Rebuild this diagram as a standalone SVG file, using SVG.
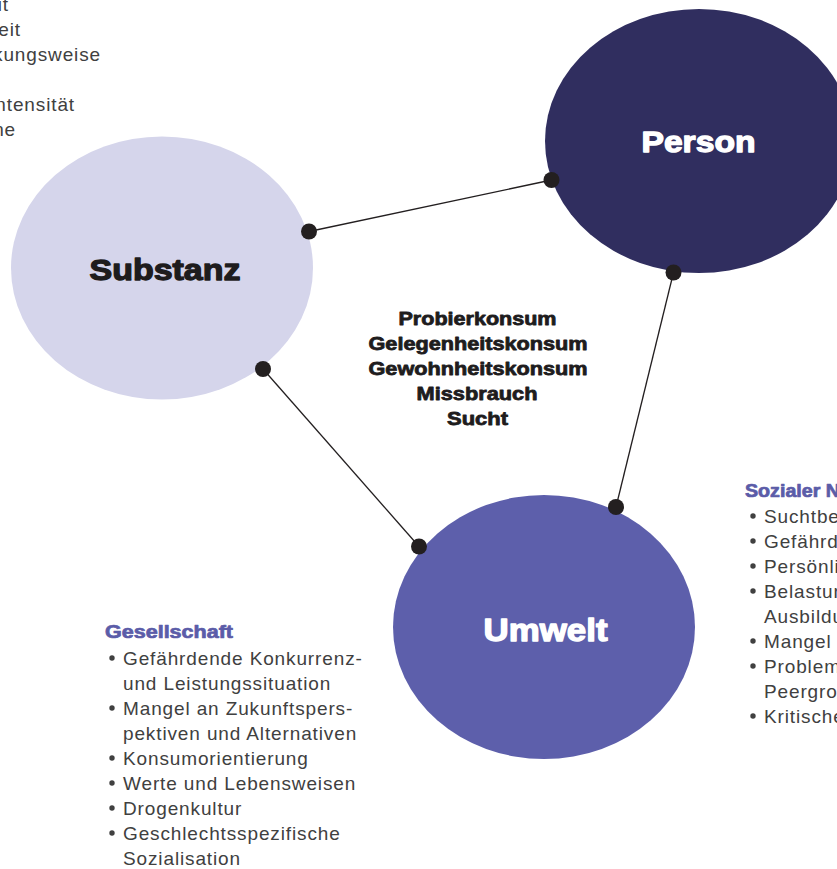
<svg xmlns="http://www.w3.org/2000/svg" width="837" height="869" viewBox="0 0 837 869">
<style>
.lbl{font-family:"Liberation Sans",Arial,sans-serif;font-weight:bold;text-anchor:middle;stroke-width:1.3;stroke-linejoin:round}
.mid{font-family:"Liberation Sans",Arial,sans-serif;font-weight:bold;font-size:18.5px;fill:#1e1c1d;stroke:#1e1c1d;stroke-width:0.8;stroke-linejoin:round;text-anchor:middle}
.head{font-family:"Liberation Sans",Arial,sans-serif;font-weight:bold;font-size:17.5px;fill:#5b5ca8;stroke:#5b5ca8;stroke-width:0.7;stroke-linejoin:round}
.body{font-family:"Liberation Sans",Arial,sans-serif;font-size:19px;fill:#404040;letter-spacing:0.87px}
.dot{fill:#231f20}
.bul{fill:#404040}
.conn{stroke:#231f20;stroke-width:1.3;fill:none}
</style>
<rect width="837" height="869" fill="#ffffff"/>

<g id="substanz-factors">
<text class="body" text-anchor="end" x="9" y="11">it</text>
<text class="body" text-anchor="end" x="21" y="36">eit</text>
<text class="body" text-anchor="end" x="101" y="61">kungsweise</text>
<text class="body" text-anchor="end" x="75" y="111">ntensität</text>
<text class="body" text-anchor="end" x="16" y="136">ne</text>
</g>

<g id="substanz">
<ellipse cx="162" cy="268" rx="151" ry="131.5" fill="#d5d5eb"/>
<text class="lbl" x="165" y="280" font-size="30" fill="#1e1c1d" stroke="#1e1c1d" textLength="151" lengthAdjust="spacingAndGlyphs">Substanz</text>
</g>

<g id="person">
<ellipse cx="699" cy="141" rx="154" ry="132" fill="#302e5f"/>
<text class="lbl" x="698.5" y="152" font-size="30" fill="#ffffff" stroke="#ffffff" textLength="114" lengthAdjust="spacingAndGlyphs">Person</text>
</g>

<g id="umwelt">
<ellipse cx="544" cy="627" rx="151" ry="132" fill="#5d5fab"/>
<text class="lbl" x="545.5" y="641" font-size="31" fill="#ffffff" stroke="#ffffff" textLength="124" lengthAdjust="spacingAndGlyphs">Umwelt</text>
</g>

<g id="konsum-stufen">
<text class="mid" x="477.5" y="325" textLength="158" lengthAdjust="spacingAndGlyphs">Probierkonsum</text>
<text class="mid" x="478" y="350" textLength="219" lengthAdjust="spacingAndGlyphs">Gelegenheitskonsum</text>
<text class="mid" x="478" y="375" textLength="219" lengthAdjust="spacingAndGlyphs">Gewohnheitskonsum</text>
<text class="mid" x="477" y="400" textLength="121" lengthAdjust="spacingAndGlyphs">Missbrauch</text>
<text class="mid" x="477.5" y="425" textLength="61" lengthAdjust="spacingAndGlyphs">Sucht</text>
</g>

<g id="connectors">
<line class="conn" x1="309" y1="231.5" x2="551.5" y2="180"/>
<line class="conn" x1="673.5" y1="272.5" x2="616" y2="507"/>
<line class="conn" x1="263" y1="369" x2="419" y2="546.5"/>
<circle class="dot" cx="309" cy="231.5" r="8"/>
<circle class="dot" cx="551.5" cy="180" r="8"/>
<circle class="dot" cx="673.5" cy="272.5" r="8"/>
<circle class="dot" cx="616" cy="507" r="8"/>
<circle class="dot" cx="263" cy="369" r="8"/>
<circle class="dot" cx="419" cy="546.5" r="8"/>
</g>

<g id="gesellschaft">
<text class="head" x="105" y="638" textLength="128" lengthAdjust="spacingAndGlyphs">Gesellschaft</text>
<g class="body">
<circle class="bul" cx="112" cy="658" r="2.7"/>
<text x="123" y="665">Gefährdende Konkurrenz-</text>
<text x="123" y="690">und Leistungssituation</text>
<circle class="bul" cx="112" cy="708" r="2.7"/>
<text x="123" y="715">Mangel an Zukunftspers-</text>
<text x="123" y="740">pektiven und Alternativen</text>
<circle class="bul" cx="112" cy="758" r="2.7"/>
<text x="123" y="765">Konsumorientierung</text>
<circle class="bul" cx="112" cy="783" r="2.7"/>
<text x="123" y="790">Werte und Lebensweisen</text>
<circle class="bul" cx="112" cy="808" r="2.7"/>
<text x="123" y="815">Drogenkultur</text>
<circle class="bul" cx="112" cy="833" r="2.7"/>
<text x="123" y="840">Geschlechtsspezifische</text>
<text x="123" y="865">Sozialisation</text>
</g>
</g>

<g id="sozialer-nahraum">
<text class="head" x="745" y="497" textLength="95" lengthAdjust="spacingAndGlyphs">Sozialer N</text>
<g class="body">
<circle class="bul" cx="753" cy="516" r="2.7"/>
<text x="764" y="523">Suchtbe</text>
<circle class="bul" cx="753" cy="541" r="2.7"/>
<text x="764" y="548">Gefährd</text>
<circle class="bul" cx="753" cy="566" r="2.7"/>
<text x="764" y="573">Persönli</text>
<circle class="bul" cx="753" cy="591" r="2.7"/>
<text x="764" y="598">Belastun</text>
<text x="764" y="623">Ausbildu</text>
<circle class="bul" cx="753" cy="641" r="2.7"/>
<text x="764" y="648">Mangel</text>
<circle class="bul" cx="753" cy="666" r="2.7"/>
<text x="764" y="673">Problem</text>
<text x="764" y="698">Peergro</text>
<circle class="bul" cx="753" cy="716" r="2.7"/>
<text x="764" y="723">Kritische</text>
</g>
</g>
</svg>
